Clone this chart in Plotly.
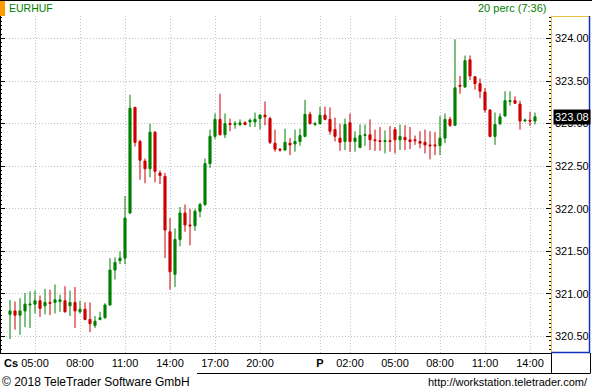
import plotly.graph_objects as go
import pandas as pd

# ---------------- data ----------------
symbol = "EURHUF"
interval_label = "20 perc (7:36)"
start_time = "2018-03-15 03:20"   # Thursday (Cs)
bar_minutes = 20

opens = [320.76, 320.80, 320.75, 320.80, 320.87, 320.88, 320.92, 320.86, 320.90, 320.90,
         320.91, 320.92, 320.86, 320.90, 320.79, 320.82, 320.70, 320.63, 320.70, 320.72,
         320.87, 321.28, 321.39, 321.42, 321.95, 323.19, 322.79, 322.56, 322.47, 322.90,
         322.42, 322.38, 321.73, 321.23, 321.64, 321.95, 321.81, 321.80, 321.97, 322.05,
         322.53, 322.85, 323.05, 322.87, 323.00, 322.99, 322.99, 323.01, 323.02, 323.02,
         323.06, 323.10, 323.06, 322.77, 322.70, 322.69, 322.77, 322.76, 322.79, 322.85,
         323.11, 322.99, 323.00, 323.10, 323.05, 322.93, 322.83, 322.79, 323.01, 322.79,
         322.72, 322.86, 322.87, 322.81, 322.80, 322.79, 322.80, 322.93, 322.81, 322.84,
         322.81, 322.81, 322.79, 322.78, 322.75, 322.75, 322.74, 322.83, 323.05, 322.98,
         323.45, 323.43, 323.75, 323.55, 323.47, 323.37, 323.16, 322.85, 323.00, 323.09,
         323.26, 323.27, 323.23, 323.03, 323.04, 323.03]
highs = [320.93, 320.91, 320.95, 321.01, 321.03, 321.04, 320.98, 321.06, 321.05, 321.11,
         320.99, 321.09, 321.04, 321.08, 320.92, 320.90, 320.90, 320.74, 320.79, 320.89,
         321.42, 321.43, 321.50, 322.15, 323.34, 323.20, 322.81, 322.59, 323.00, 322.91,
         322.45, 322.42, 321.89, 321.77, 322.02, 322.05, 322.00, 322.00, 322.07, 322.59,
         322.93, 323.12, 323.35, 323.12, 323.06, 323.03, 323.05, 323.03, 323.06, 323.13,
         323.11, 323.26, 323.08, 322.93, 322.71, 322.94, 322.83, 322.93, 322.94, 323.28,
         323.14, 323.02, 323.20, 323.20, 323.19, 323.07, 323.00, 323.06, 323.12, 322.91,
         322.99, 322.99, 323.05, 322.93, 322.96, 322.92, 322.97, 322.96, 322.99, 322.98,
         322.96, 322.86, 322.91, 322.93, 322.91, 322.90, 323.09, 323.12, 323.08, 323.99,
         323.56, 323.80, 323.80, 323.56, 323.53, 323.42, 323.17, 323.13, 323.12, 323.38,
         323.38, 323.32, 323.27, 323.06, 323.14, 323.13]
lows = [320.47, 320.58, 320.52, 320.61, 320.60, 320.77, 320.73, 320.76, 320.75, 320.77,
        320.79, 320.78, 320.74, 320.60, 320.77, 320.69, 320.55, 320.60, 320.69, 320.71,
        320.86, 321.17, 321.35, 321.35, 321.94, 322.73, 322.34, 322.30, 322.37, 322.31,
        322.29, 321.42, 321.05, 321.08, 321.56, 321.73, 321.57, 321.74, 321.90, 322.03,
        322.48, 322.82, 322.86, 322.83, 322.91, 322.94, 322.97, 322.98, 322.96, 322.96,
        322.93, 322.98, 322.76, 322.67, 322.67, 322.68, 322.63, 322.67, 322.74, 322.84,
        322.99, 322.97, 322.99, 323.04, 322.87, 322.79, 322.68, 322.69, 322.67, 322.67,
        322.71, 322.74, 322.69, 322.68, 322.68, 322.65, 322.67, 322.65, 322.69, 322.69,
        322.70, 322.75, 322.71, 322.65, 322.58, 322.63, 322.63, 322.77, 322.96, 322.97,
        323.35, 323.42, 323.51, 323.40, 323.30, 323.13, 322.84, 322.75, 322.98, 323.08,
        323.21, 323.23, 322.93, 323.02, 322.97, 322.99]
closes = [320.80, 320.75, 320.80, 320.88, 320.88, 320.92, 320.83, 320.90, 320.89, 320.93,
          320.93, 320.79, 320.90, 320.80, 320.82, 320.70, 320.65, 320.68, 320.72, 320.87,
          321.28, 321.37, 321.42, 321.89, 323.18, 322.78, 322.57, 322.47, 322.90, 322.44,
          322.39, 321.75, 321.26, 321.64, 321.95, 321.81, 321.80, 321.97, 322.05, 322.53,
          322.85, 323.05, 322.87, 323.00, 322.99, 323.00, 323.01, 322.99, 323.04, 323.05,
          323.10, 323.08, 322.78, 322.70, 322.69, 322.78, 322.75, 322.79, 322.86, 323.11,
          323.00, 323.00, 323.10, 323.05, 322.91, 322.85, 322.78, 322.99, 322.79, 322.83,
          322.86, 322.87, 322.81, 322.80, 322.79, 322.80, 322.79, 322.81, 322.85, 322.81,
          322.79, 322.80, 322.77, 322.75, 322.74, 322.74, 322.83, 323.05, 322.98, 323.42,
          323.44, 323.74, 323.56, 323.47, 323.38, 323.16, 322.85, 322.99, 323.08, 323.27,
          323.27, 323.24, 323.03, 323.04, 323.03, 323.08]

tick_times = ["2018-03-15 05:00", "2018-03-15 08:00", "2018-03-15 11:00", "2018-03-15 14:00",
              "2018-03-15 17:00", "2018-03-15 20:00", "2018-03-16 00:00", "2018-03-16 02:00",
              "2018-03-16 05:00", "2018-03-16 08:00", "2018-03-16 11:00", "2018-03-16 14:00"]
tick_labels = ["05:00", "08:00", "11:00", "14:00", "17:00", "20:00", "<b>P</b>", "02:00",
               "05:00", "08:00", "11:00", "14:00"]
day_label = "Cs"
x_range = ["2018-03-15 02:40", "2018-03-16 15:24"]
y_range = [320.306, 324.264]
last_price = 323.08
copyright_text = "© 2018 TeleTrader Software GmbH"
url_text = "http://workstation.teletrader.com/"

# ---------------- layout geometry (pixels) ----------------
W, H = 592, 390
PL, PR, PT, PB = 0, 551, 16, 353
FONT = "Liberation Sans, Arial, sans-serif"
GREEN = "#008000"
RED = "#cc0000"
GRID = "#c4c4c4"


def px_x(x):
    return (x - PL) / (PR - PL)


def px_y(y):
    return (PB - y) / (PB - PT)


times = pd.date_range(start_time, periods=len(opens), freq=f"{bar_minutes}min")

fig = go.Figure()
fig.add_trace(go.Candlestick(
    x=times, open=opens, high=highs, low=lows, close=closes,
    increasing=dict(line=dict(color=GREEN, width=1), fillcolor=GREEN),
    decreasing=dict(line=dict(color=RED, width=1), fillcolor=RED),
    whiskerwidth=0, showlegend=False, hoverinfo="skip",
))

minor_levels = []
lvl = 320.75
while lvl < y_range[1]:
    minor_levels.append(round(lvl, 2))
    lvl += 0.5

line_black = dict(color="black", width=1)
shapes = [
    # top border
    dict(type="line", xref="paper", yref="paper", x0=px_x(0), x1=px_x(592), y0=px_y(0.5), y1=px_y(0.5), line=line_black),
    # orange marker
    dict(type="rect", xref="paper", yref="paper", x0=px_x(0), x1=px_x(5), y0=px_y(1), y1=px_y(16),
         fillcolor="#ff9900", line=dict(width=0)),
    # left border
    dict(type="line", xref="paper", yref="paper", x0=px_x(0.5), x1=px_x(0.5), y0=px_y(16), y1=px_y(353), line=line_black),
    # price axis panel
    dict(type="line", xref="paper", yref="paper", x0=px_x(551.5), x1=px_x(551.5), y0=px_y(16), y1=px_y(353),
         line=dict(color="#f0c040", width=1)),
    dict(type="line", xref="paper", yref="paper", x0=px_x(551), x1=px_x(590), y0=px_y(16.5), y1=px_y(16.5),
         line=dict(color="#f0c040", width=1)),
    dict(type="line", xref="paper", yref="paper", x0=px_x(589.5), x1=px_x(589.5), y0=px_y(16), y1=px_y(353),
         line=dict(color="#1030c0", width=1.5)),
    dict(type="line", xref="paper", yref="paper", x0=px_x(551), x1=px_x(590), y0=px_y(352.5), y1=px_y(352.5),
         line=dict(color="#1030c0", width=1.5)),
    # bottom time-axis box
    dict(type="line", xref="paper", yref="paper", x0=px_x(197), x1=px_x(590), y0=px_y(373.5), y1=px_y(373.5), line=line_black),
    dict(type="line", xref="paper", yref="paper", x0=px_x(551.5), x1=px_x(551.5), y0=px_y(353), y1=px_y(373.5), line=line_black),
    dict(type="line", xref="paper", yref="paper", x0=px_x(590.5), x1=px_x(590.5), y0=px_y(353), y1=px_y(373.5), line=line_black),
]

annotations = [
    dict(text=symbol, xref="paper", yref="paper", x=px_x(7), y=px_y(8), xanchor="left", yanchor="middle",
         showarrow=False, font=dict(family=FONT, size=10.5, color=GREEN)),
    dict(text=interval_label, xref="paper", yref="paper", x=px_x(548), y=px_y(8), xanchor="right", yanchor="middle",
         showarrow=False, font=dict(family=FONT, size=11, color=GREEN)),
    dict(text=f"<b>{day_label}</b>", xref="paper", yref="paper", x=px_x(2), y=px_y(363), xanchor="left", yanchor="middle",
         showarrow=False, font=dict(family=FONT, size=11, color="black")),
    dict(text=copyright_text, xref="paper", yref="paper", x=px_x(0), y=px_y(381.5), xanchor="left", yanchor="middle",
         showarrow=False, font=dict(family=FONT, size=12, color="black")),
    dict(text=url_text, xref="paper", yref="paper", x=px_x(590), y=px_y(382), xanchor="right", yanchor="middle",
         showarrow=False, font=dict(family=FONT, size=11, color="black")),
    dict(text=f"{last_price:.2f}", xref="paper", yref="y", x=px_x(553), y=last_price, xanchor="left", yanchor="middle",
         showarrow=False, bgcolor="black", borderpad=1, font=dict(family=FONT, size=11, color="white")),
]

fig.update_layout(
    width=W, height=H,
    margin=dict(l=PL, r=W - PR, t=PT, b=H - PB, pad=0),
    paper_bgcolor="white", plot_bgcolor="white",
    showlegend=False,
    boxgap=0.4, boxgroupgap=0.3,
    xaxis=dict(
        type="date", range=x_range, rangeslider=dict(visible=False),
        tickvals=tick_times, ticktext=tick_labels, ticks="",
        showgrid=True, gridcolor=GRID, griddash="1px,2px", gridwidth=1,
        showline=True, linecolor="black", linewidth=1,
        tickfont=dict(family=FONT, size=11, color="black"),
        zeroline=False, fixedrange=True,
    ),
    yaxis=dict(
        side="right", range=y_range, tick0=320.5, dtick=0.5, tickformat=".2f",
        ticks="inside", ticklen=5, tickcolor="black", tickwidth=1, mirror="ticks", showline=False,
        showgrid=True, gridcolor=GRID, griddash="1px,2px", gridwidth=1,
        minor=dict(dtick=0.05, tick0=320.5, ticks="inside", ticklen=2, tickcolor="black", showgrid=False),
        tickfont=dict(family=FONT, size=11, color="black"),
        ticklabelstandoff=3, zeroline=False,
    ),
    yaxis2=dict(
        overlaying="y", side="left", range=y_range, tickvals=minor_levels,
        showticklabels=False, ticks="", showgrid=True, gridcolor=GRID, griddash="4px,11px",
        gridwidth=1, zeroline=False, showline=False,
    ),
    shapes=shapes,
    annotations=annotations,
)

fig.write_html("out.html", config={"displayModeBar": False},
               post_script="document.body.style.margin='0';document.body.style.overflow='hidden';")
